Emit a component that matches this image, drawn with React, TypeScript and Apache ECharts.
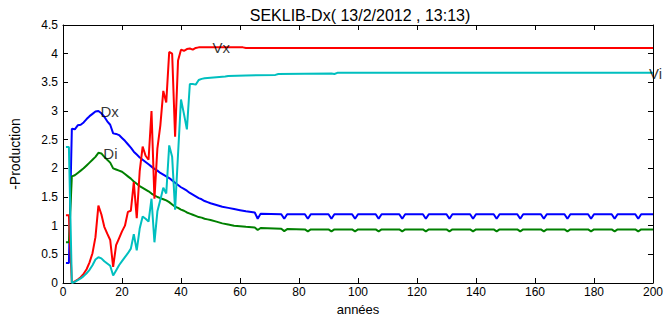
import React, { useEffect, useRef } from "react";
import * as echarts from "echarts";

// Axis ranges and tick steps
const yearRange = { min: 0, max: 200, step: 20 };
const prodRange = { min: 0, max: 4.5, step: 0.5 };

const chartTitle = "SEKLIB-Dx( 13/2/2012 , 13:13)";
const xName = "années";
const yName = "-Production";

// [year, value] pairs for each curve
const dx: [number, number][] = [
  [1, 0.35], [2, 0.35], [3, 2.69], [4, 2.68], [5, 2.75], [6, 2.76], [7, 2.8], [8, 2.86], [9, 2.91], [10, 2.95],
  [11, 2.99], [12, 3.0], [13, 2.96], [14, 2.9], [15, 2.82], [16, 2.76], [17, 2.61], [18, 2.6], [19, 2.58], [20, 2.53],
  [21, 2.48], [22, 2.42], [23, 2.36], [24, 2.29], [25, 2.24], [26, 2.19], [27, 2.15], [28, 2.11], [29, 2.07], [30, 2.03],
  [31, 1.99], [32, 1.96], [33, 1.92], [34, 1.89], [35, 1.86], [36, 1.83], [37, 1.79], [38, 1.75], [39, 1.71], [40, 1.67],
  [41, 1.64], [42, 1.61], [43, 1.57], [44, 1.54], [45, 1.51], [46, 1.48], [47, 1.46], [48, 1.43], [49, 1.41], [50, 1.39],
  [52, 1.36], [54, 1.33], [56, 1.31], [58, 1.29], [60, 1.27], [62, 1.25], [65, 1.23], [66, 1.12], [67, 1.21],
  [74, 1.2], [75, 1.12], [76, 1.2], [82, 1.2], [83, 1.12], [84, 1.2], [90, 1.2], [91, 1.12], [92, 1.2],
  [98, 1.2], [99, 1.12], [100, 1.2], [106, 1.2], [107, 1.12], [108, 1.2], [114, 1.2], [115, 1.12], [116, 1.2],
  [122, 1.2], [123, 1.12], [124, 1.2], [130, 1.2], [131, 1.12], [132, 1.2], [138, 1.2], [139, 1.12], [140, 1.2],
  [146, 1.2], [147, 1.12], [148, 1.2], [154, 1.2], [155, 1.12], [156, 1.2], [162, 1.2], [163, 1.12], [164, 1.2],
  [170, 1.2], [171, 1.12], [172, 1.2], [178, 1.2], [179, 1.12], [180, 1.2], [186, 1.2], [187, 1.12], [188, 1.2],
  [194, 1.2], [195, 1.12], [196, 1.2], [200, 1.2],
];

const di: [number, number][] = [
  [1, 0.71], [2, 0.71], [3, 1.86], [4, 1.88], [5, 1.92], [6, 1.96], [7, 2.0], [8, 2.05], [9, 2.1], [10, 2.15],
  [11, 2.2], [12, 2.27], [13, 2.26], [14, 2.2], [15, 2.15], [16, 2.1], [17, 2.0], [18, 1.98], [19, 1.96], [20, 1.94],
  [21, 1.9], [22, 1.86], [23, 1.82], [24, 1.77], [25, 1.73], [26, 1.69], [27, 1.66], [28, 1.63], [29, 1.6], [30, 1.56],
  [31, 1.53], [32, 1.5], [33, 1.48], [34, 1.46], [35, 1.44], [36, 1.41], [37, 1.37], [38, 1.33], [39, 1.31], [40, 1.28],
  [41, 1.26], [42, 1.23], [43, 1.21], [44, 1.19], [45, 1.17], [46, 1.15], [47, 1.14], [48, 1.12], [49, 1.11], [50, 1.1],
  [52, 1.07], [54, 1.04], [56, 1.02], [58, 1.0], [60, 0.99], [62, 0.98], [65, 0.97], [66, 0.925], [67, 0.96],
  [74, 0.945], [75, 0.905], [76, 0.94], [82, 0.935], [83, 0.9], [84, 0.935], [90, 0.935], [91, 0.9], [92, 0.935],
  [98, 0.935], [99, 0.9], [100, 0.935], [106, 0.935], [107, 0.9], [108, 0.935], [114, 0.935], [115, 0.9], [116, 0.935],
  [122, 0.935], [123, 0.9], [124, 0.935], [130, 0.935], [131, 0.9], [132, 0.935], [138, 0.935], [139, 0.9], [140, 0.935],
  [146, 0.935], [147, 0.9], [148, 0.935], [154, 0.935], [155, 0.9], [156, 0.935], [162, 0.935], [163, 0.9], [164, 0.935],
  [170, 0.935], [171, 0.9], [172, 0.935], [178, 0.935], [179, 0.9], [180, 0.935], [186, 0.935], [187, 0.9], [188, 0.935],
  [194, 0.935], [195, 0.9], [196, 0.935], [200, 0.935],
];

const vx: [number, number][] = [
  [1, 1.18], [2, 1.18], [3, 0], [4, 0.03], [5, 0.06], [6, 0.1], [7, 0.16], [8, 0.24], [9, 0.36], [10, 0.52],
  [11, 0.8], [12, 1.35], [13, 1.2], [14, 0.98], [15, 0.86], [16, 0.75], [17, 0.28], [18, 0.66], [19, 0.78], [20, 0.9],
  [21, 1.0], [22, 1.24], [23, 1.26], [24, 1.76], [25, 1.13], [26, 1.95], [27, 2.38], [28, 2.22], [29, 2.15], [30, 3.0],
  [31, 1.47], [32, 2.35], [33, 2.75], [34, 3.35], [35, 3.15], [36, 4.03], [37, 4.0], [38, 2.55], [39, 3.88], [40, 4.07],
  [41, 4.05], [42, 4.08], [43, 4.09], [44, 4.07], [45, 4.1], [46, 4.11], [61, 4.11], [62, 4.1], [200, 4.1],
];

const vi: [number, number][] = [
  [1, 2.37], [2, 2.37], [3, 0], [4, 0.02], [5, 0.05], [6, 0.08], [7, 0.12], [8, 0.17], [9, 0.23], [10, 0.31],
  [11, 0.41], [12, 0.45], [13, 0.43], [14, 0.38], [15, 0.34], [16, 0.3], [17, 0.13], [18, 0.22], [19, 0.31], [20, 0.38],
  [21, 0.45], [22, 0.52], [23, 0.6], [24, 0.85], [25, 0.57], [26, 0.95], [27, 1.16], [28, 1.12], [29, 1.07], [30, 1.47],
  [31, 0.71], [32, 1.25], [33, 1.45], [34, 1.66], [35, 1.56], [36, 2.4], [37, 2.2], [38, 1.28], [39, 2.25], [40, 3.2],
  [41, 2.95], [42, 2.68], [43, 3.47], [44, 3.47], [45, 3.46], [46, 3.54], [47, 3.56], [48, 3.57], [50, 3.58], [55, 3.6],
  [56, 3.61], [62, 3.62], [72, 3.63], [73, 3.645], [91, 3.655], [92, 3.645], [93, 3.665], [200, 3.665],
];

// Text tags placed beside each curve
const curveTags = [
  { text: "Dx", year: 12, value: 3.0 },
  { text: "Di", year: 13, value: 2.26 },
  { text: "Vx", year: 50, value: 4.11 },
  { text: "Vi", year: 198, value: 3.66 },
];

const FONT = "'Liberation Sans', Arial, Helvetica, sans-serif";

export default function App() {
  const ref = useRef<HTMLDivElement>(null);

  useEffect(() => {
    if (!ref.current) return;
    const chart = echarts.init(ref.current, undefined, { renderer: "svg" });

    const frameLine = { show: true, onZero: false, lineStyle: { color: "#000", width: 1 } };
    const tick = { show: true, inside: true, length: 5, lineStyle: { color: "#000", width: 1 } };
    const labelStyle = { color: "#000", fontSize: 12, fontFamily: FONT };

    const line = (name: string, data: [number, number][], color: string) => ({
      name,
      type: "line",
      data,
      symbol: "none",
      showSymbol: false,
      clip: true,
      lineStyle: { color, width: 2 },
      z: 3,
    });

    chart.setOption({
      animation: false,
      backgroundColor: "#fff",
      textStyle: { fontFamily: FONT },
      title: {
        text: chartTitle,
        left: 355,
        top: 2,
        textAlign: "center",
        textStyle: { color: "#000", fontSize: 16, fontWeight: "normal", fontFamily: FONT },
      },
      grid: { left: 54, right: 9, top: 25, bottom: 31, containLabel: false },
      xAxis: [
        {
          type: "value",
          position: "bottom",
          min: yearRange.min,
          max: yearRange.max,
          interval: yearRange.step,
          axisLine: frameLine,
          axisTick: tick,
          axisLabel: { ...labelStyle, margin: 3 },
          splitLine: { show: false },
          name: xName,
          nameLocation: "middle",
          nameGap: 20,
          nameTextStyle: { color: "#000", fontSize: 13, fontFamily: FONT },
        },
        {
          type: "value",
          position: "top",
          min: yearRange.min,
          max: yearRange.max,
          interval: yearRange.step,
          axisLine: frameLine,
          axisTick: tick,
          axisLabel: { show: false },
          splitLine: { show: false },
        },
      ],
      yAxis: [
        {
          type: "value",
          position: "left",
          min: prodRange.min,
          max: prodRange.max,
          interval: prodRange.step,
          axisLine: frameLine,
          axisTick: tick,
          axisLabel: { ...labelStyle, margin: 5 },
          splitLine: { show: false },
          name: yName,
          nameLocation: "middle",
          nameGap: 41,
          nameTextStyle: { color: "#000", fontSize: 14, fontFamily: FONT },
        },
        {
          type: "value",
          position: "right",
          min: prodRange.min,
          max: prodRange.max,
          interval: prodRange.step,
          axisLine: frameLine,
          axisTick: tick,
          axisLabel: { show: false },
          splitLine: { show: false },
        },
      ],
      series: [
        line("Dx", dx, "#0000ff"),
        line("Di", di, "#008000"),
        line("Vx", vx, "#ff0000"),
        line("Vi", vi, "#00bfbf"),
        {
          name: "tags",
          type: "scatter",
          silent: true,
          clip: false,
          symbolSize: 0,
          data: curveTags.map((t) => ({ name: t.text, value: [t.year, t.value] })),
          label: {
            show: true,
            position: "right",
            distance: 2,
            formatter: "{b}",
            color: "#000",
            fontSize: 15,
            fontFamily: FONT,
          },
          z: 5,
        },
      ],
    });

    return () => chart.dispose();
  }, []);

  return (
    <div
      ref={ref}
      style={{ position: "absolute", left: 0, top: 0, width: 666, height: 321, background: "#fff" }}
    />
  );
}
